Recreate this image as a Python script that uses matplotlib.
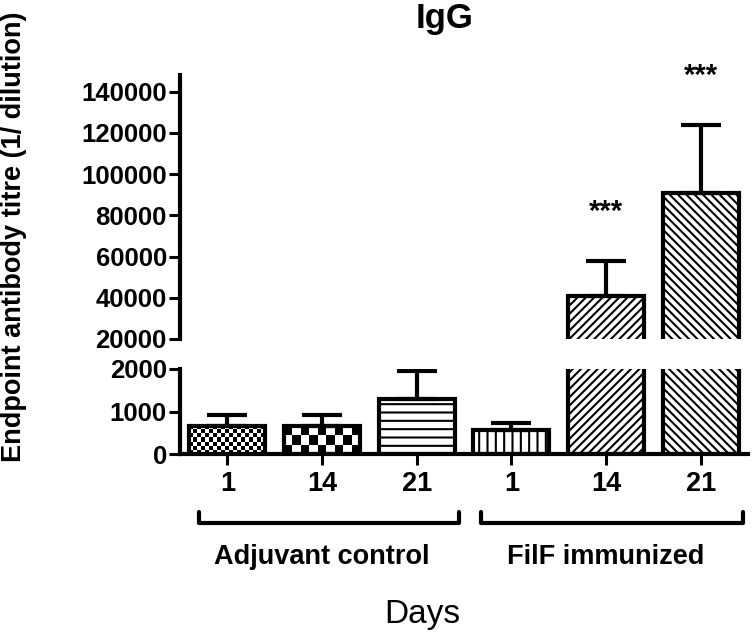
import numpy as np
import matplotlib
matplotlib.use('Agg')
import matplotlib.pyplot as plt
import matplotlib.transforms as mtransforms
from matplotlib.lines import Line2D

plt.rcParams['font.family'] = ['Liberation Sans', 'DejaVu Sans']
plt.rcParams['hatch.linewidth'] = 1.5

# Dados
days = ['1', '14', '21', '1', '14', '21']
groups = ['Adjuvant control', 'FilF immunized']
group_idx = [[0, 1, 2], [3, 4, 5]]
means = [660, 650, 1290, 560, 40900, 90900]
sem = [260, 270, 660, 170, 17000, 33100]
stars = ['', '', '', '', '***', '***']
# padrão de cada barra: ('check', tamanho da célula em px) ou hatch
patterns = [('check', 4), ('check', 8), ('hatch', '--'),
            ('hatch', '||'), ('hatch', '////'), ('hatch', '\\\\\\\\')]

W, H = 756, 638
fig = plt.figure(figsize=(W / 100, H / 100), dpi=100)
ax_top = fig.add_axes([180 / W, 299 / H, 568 / W, 264 / H])
ax_low = fig.add_axes([180 / W, 184 / H, 568 / W, 85 / H])

x = np.arange(len(means))
lw = 3.0
width = 0.8


def draw_bars(ax, ylim):
    ax.set_xlim(-0.5, len(means) - 0.5)
    ax.set_ylim(*ylim)
    bars = ax.bar(x, means, width=width, color='white', edgecolor='black',
                  linewidth=0, zorder=1)
    for b, (kind, p) in zip(bars, patterns):
        if kind == 'hatch':
            b.set_hatch(p)
        else:
            x0, x1 = b.get_x(), b.get_x() + b.get_width()
            y1 = b.get_height()
            p0 = ax.transData.transform((x0, 0))
            p1 = ax.transData.transform((x1, y1))
            nx = max(1, int(round(abs(p1[0] - p0[0]) / p)))
            ny = max(1, int(round(abs(p1[1] - p0[1]) / p)))
            checker = np.indices((ny, nx)).sum(axis=0) % 2
            im = ax.imshow(checker, extent=(x0, x1, 0, y1), cmap='gray',
                           interpolation='nearest', aspect='auto', zorder=2)
            im.set_clip_path(b)
    ax.bar(x, means, width=width, fill=False, edgecolor='black',
           linewidth=lw, zorder=3)
    ax.errorbar(x, means, yerr=[np.zeros(len(sem)), sem], fmt='none',
                ecolor='black', elinewidth=lw, capsize=14.5, capthick=lw,
                zorder=4)
    ax.set_xlim(-0.5, len(means) - 0.5)
    ax.set_ylim(*ylim)
    for s in ['top', 'right']:
        ax.spines[s].set_visible(False)
    ax.spines['left'].set_linewidth(lw)
    ax.tick_params(axis='y', length=8, width=2.2, pad=1.5, labelsize=18)


draw_bars(ax_top, (20000, 148000))
draw_bars(ax_low, (0, 2000))

ax_top.spines['bottom'].set_visible(False)
ax_top.set_xticks([])
ax_top.set_yticks(np.arange(20000, 140001, 20000))
ax_top.set_yticklabels([str(v) for v in range(20000, 140001, 20000)],
                       fontweight='bold', fontsize=18.5)

ax_low.spines['bottom'].set_linewidth(lw)
ax_low.set_yticks([0, 1000, 2000])
ax_low.set_yticklabels(['0', '1000', '2000'], fontweight='bold', fontsize=18.5)
ax_low.set_xticks(x)
ax_low.set_xticklabels(days, fontweight='bold', fontsize=19.5)
ax_low.tick_params(axis='x', length=8, width=2.2, pad=4)

# asteriscos de significância
for xi, m, e, s in zip(x, means, sem, stars):
    if s:
        ax_top.annotate(s, (xi, m + e), xytext=(0, 35),
                        textcoords='offset points', ha='center', va='center',
                        fontsize=21, fontweight='bold', annotation_clip=False)

# chaves dos grupos
trans = mtransforms.blended_transform_factory(ax_low.transData, fig.transFigure)
y_line = 1 - 523 / H
y_tip = 1 - 512 / H
for g, idx in zip(groups, group_idx):
    xl, xr = idx[0] - 0.3, idx[-1] + 0.45
    if idx[0] > 0:
        xl, xr = idx[0] - 0.32, idx[-1] + 0.45
    fig.add_artist(Line2D([xl, xl, xr, xr], [y_tip, y_line, y_line, y_tip],
                          transform=trans, color='black', lw=lw,
                          solid_joinstyle='round', solid_capstyle='round'))
    fig.text(np.mean(idx), 1 - 564 / H, g, transform=trans, ha='center',
             va='baseline', fontsize=19.5, fontweight='bold')

fig.text(445 / W, 1 - 28 / H, 'IgG', ha='center', va='baseline',
         fontsize=25, fontweight='bold')
fig.text(422 / W, 1 - 623 / H, 'Days', ha='center', va='baseline', fontsize=24)
fig.text(14 / W, 1 - 237 / H, 'Endpoint antibody titre (1/ dilution)',
         rotation=90, ha='center', va='center', fontsize=19.5,
         fontweight='bold')

fig.savefig('out.png', dpi=100)
